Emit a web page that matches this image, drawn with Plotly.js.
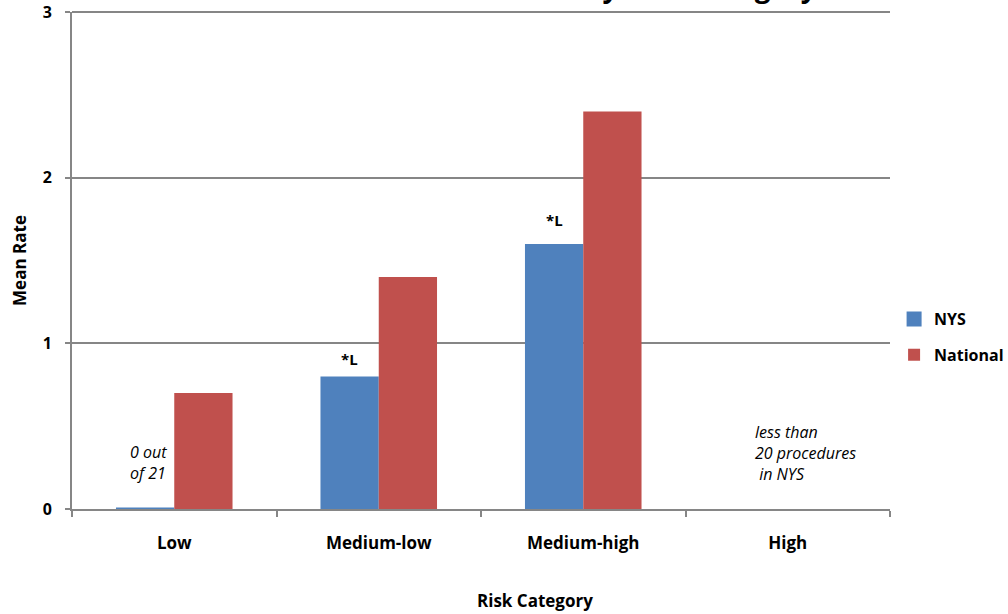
<!DOCTYPE html>
<html>
<head>
<meta charset="utf-8">
<script src="https://cdn.plot.ly/plotly-3.0.1.min.js"></script>
<style>html,body{margin:0;padding:0;background:#fff;}#chart{width:1008px;height:614px;}</style>
</head>
<body>
<div id="chart"></div>
<script>
var categories = ["Low", "Medium-low", "Medium-high", "High"];
var nysValues = [0, 0.80, 1.60, null];
var nationalValues = [0.70, 1.40, 2.40, null];
var yTickVals = [0, 1, 2, 3];
var yTickText = ["0", "1", "2", "3"];
var titleText = "Mean Rate by Risk Category";
var xTitleText = "Risk Category";

var FONT = "Open Sans, Noto Sans, sans-serif";

var traces = [
  {
    type: "bar", name: "NYS", x: categories, y: nysValues, legendgroup: "nys",
    marker: {color: "#4F81BD", line: {color: "#4F81BD", width: [3, 0, 0, 0]}},
    hoverinfo: "x+y"
  },
  {
    type: "bar", name: "National", x: categories, y: nationalValues, legendgroup: "nat",
    marker: {color: "#C0504D"},
    hoverinfo: "x+y"
  }
];

var layout = {
  width: 1008, height: 614,
  margin: {l: 72, r: 118, t: 12, b: 105, pad: 0, autoexpand: false},
  paper_bgcolor: "#fff", plot_bgcolor: "#fff",
  barmode: "group", bargap: 0.43, bargroupgap: 0,
  showlegend: true,
  legend: {x: 1.005, y: 0.346, xanchor: "left", yanchor: "middle",
    font: {family: FONT, size: 16, color: "#000", weight: "bold"},
    tracegroupgap: 12, itemwidth: 30, bgcolor: "rgba(0,0,0,0)"},
  xaxis: {
    type: "category", categoryarray: categories,
    showline: true, linecolor: "#868686", linewidth: 2,
    ticks: "outside", tickson: "boundaries", ticklen: 6, tickcolor: "#868686", tickwidth: 2,
    ticklabelstandoff: 18,
    tickfont: {family: FONT, size: 17, color: "#000", weight: "bold"},
    showgrid: false, zeroline: false
  },
  yaxis: {
    range: [0, 3], tickvals: yTickVals, ticktext: yTickText,
    showline: true, linecolor: "#868686", linewidth: 2,
    ticks: "outside", ticklen: 5, tickcolor: "#868686", tickwidth: 2,
    ticklabelstandoff: 10,
    showgrid: true, gridcolor: "#868686", gridwidth: 2,
    zeroline: false,
    tickfont: {family: FONT, size: 16, color: "#000", weight: "bold"},
    title: {text: "Mean Rate", font: {family: FONT, size: 17, color: "#000", weight: "bold"}, standoff: 12}
  },
  shapes: [
    {type: "line", xref: "paper", yref: "paper", x0: 0, x1: 1, y0: 1, y1: 1,
      line: {color: "#868686", width: 2}, layer: "below"}
  ],
  annotations: [
    {xref: "paper", yref: "paper", x: 0.913, y: 1, yanchor: "bottom", xanchor: "right", yshift: 5,
      text: titleText, showarrow: false, font: {family: FONT, size: 28, color: "#000", weight: "bold"}},
    {xref: "paper", yref: "paper", x: 0.566, y: 0, yanchor: "top", xanchor: "center", yshift: -78,
      text: xTitleText, showarrow: false, font: {family: FONT, size: 17, color: "#000", weight: "bold"}},
    {xref: "x", yref: "y", x: "Low", y: 0.14, xshift: -46, xanchor: "left", yanchor: "bottom", align: "left",
      text: "<i>0 out<br>of 21</i>", showarrow: false, font: {family: FONT, size: 16, color: "#000"}},
    {xref: "x", yref: "y", x: "Medium-low", y: nysValues[1], xshift: -29, yanchor: "bottom", yshift: 5,
      text: "<b>*L</b>", showarrow: false, font: {family: FONT, size: 15, color: "#000"}},
    {xref: "x", yref: "y", x: "Medium-high", y: nysValues[2], xshift: -29, yanchor: "bottom", yshift: 12,
      text: "<b>*L</b>", showarrow: false, font: {family: FONT, size: 15, color: "#000"}},
    {xref: "x", yref: "y", x: "High", y: 0.13, xshift: -35, xanchor: "left", yanchor: "bottom", align: "left",
      text: "<i>less than<br>20 procedures<br> in NYS</i>", showarrow: false, font: {family: FONT, size: 16, color: "#000"}}
  ]
};

Plotly.newPlot("chart", traces, layout, {displayModeBar: false, staticPlot: true});
</script>
</body>
</html>
